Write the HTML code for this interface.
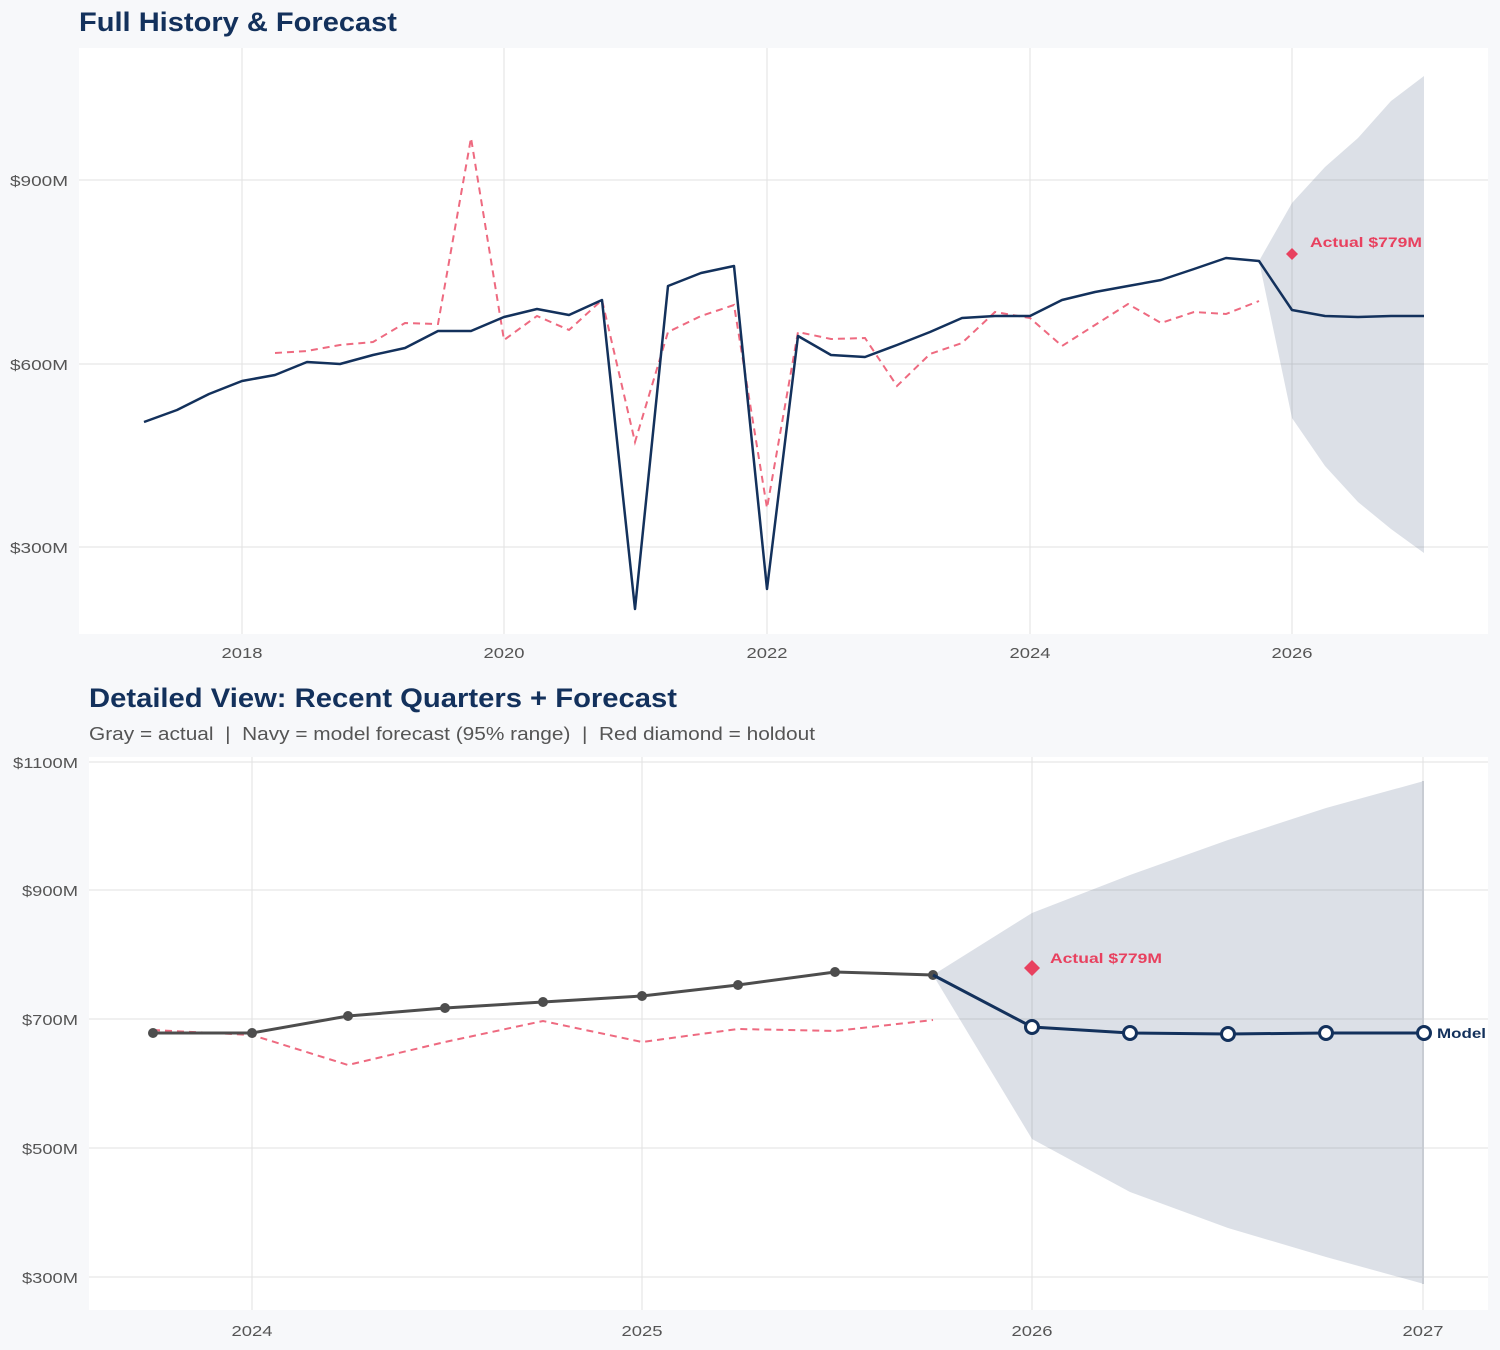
<!DOCTYPE html>
<html><head><meta charset="utf-8"><style>
html,body{margin:0;padding:0;background:#f7f8fa;}
svg{display:block;font-family:"Liberation Sans",sans-serif;}
.g{stroke:#e2e2e2;stroke-width:1;}
.yl{font-size:15px;fill:#555;text-anchor:end;}
.xl{font-size:15px;fill:#555;text-anchor:middle;}
</style></head><body>
<svg width="1500" height="1350" viewBox="0 0 1500 1350">
<rect width="1500" height="1350" fill="#f7f8fa"/>
<text x="79" y="31" font-size="27" font-weight="bold" fill="#13315c" textLength="318" lengthAdjust="spacingAndGlyphs">Full History &amp; Forecast</text>
<rect x="79" y="48" width="1409" height="586" fill="#fff"/>
<g class="g">
<line x1="79" x2="1488" y1="180" y2="180"/><line x1="79" x2="1488" y1="364" y2="364"/><line x1="79" x2="1488" y1="547" y2="547"/>
<line x1="242" x2="242" y1="48" y2="634"/><line x1="504" x2="504" y1="48" y2="634"/><line x1="767" x2="767" y1="48" y2="634"/><line x1="1030" x2="1030" y1="48" y2="634"/><line x1="1292" x2="1292" y1="48" y2="634"/>
</g>
<g class="yl"><text x="68" y="186" textLength="58" lengthAdjust="spacingAndGlyphs">$900M</text><text x="68" y="370" textLength="58" lengthAdjust="spacingAndGlyphs">$600M</text><text x="68" y="553" textLength="58" lengthAdjust="spacingAndGlyphs">$300M</text></g>
<g class="xl"><text x="242" y="658" textLength="41" lengthAdjust="spacingAndGlyphs">2018</text><text x="504" y="658" textLength="41" lengthAdjust="spacingAndGlyphs">2020</text><text x="767" y="658" textLength="41" lengthAdjust="spacingAndGlyphs">2022</text><text x="1030" y="658" textLength="41" lengthAdjust="spacingAndGlyphs">2024</text><text x="1292" y="658" textLength="41" lengthAdjust="spacingAndGlyphs">2026</text></g>
<polygon points="1259,261 1292,203 1325,167 1358,138 1391,101 1424,76 1424,553 1391,529 1358,502 1325,466 1292,418" fill="#13315c" fill-opacity="0.15"/>
<polyline fill="none" stroke="#ee6a80" stroke-width="2" stroke-dasharray="7,5" points="275,353 307,351 340,345 373,342 405,323 438,324 471,138 504,340 537,316 569,330 602,300 635,442 668,332 701,316 734,305 767,508 798,332 831,339 865,338 897,386 930,354 962,343 995,312 1030,318 1062,346 1095,325 1128,304 1161,323 1194,312 1226,314 1259,301"/>
<polyline fill="none" stroke="#13315c" stroke-width="2.5" stroke-linejoin="round" points="144,422 177,410 209,394 242,381 275,375 307,362 340,364 373,355 405,348 438,331 471,331 504,317 537,309 569,315 602,300 635,609 668,286 701,273 734,266 767,589 798,336 831,355 865,357 897,345 930,332 962,318 995,316 1030,316 1062,300 1095,292 1128,286 1161,280 1194,269 1226,258 1259,261 1292,310 1325,316 1358,317 1391,316 1424,316"/>
<polygon points="1292,248 1298,254 1292,260 1286,254" fill="#e8415f"/>
<text x="1310" y="247" font-size="14" font-weight="bold" fill="#e8415f" textLength="112" lengthAdjust="spacingAndGlyphs">Actual $779M</text>

<text x="89" y="707" font-size="27" font-weight="bold" fill="#13315c" textLength="588" lengthAdjust="spacingAndGlyphs">Detailed View: Recent Quarters + Forecast</text>
<text x="89" y="740" font-size="18" fill="#555" textLength="726" lengthAdjust="spacingAndGlyphs" style="white-space:pre">Gray = actual  |  Navy = model forecast (95% range)  |  Red diamond = holdout</text>
<rect x="89" y="757" width="1399" height="553" fill="#fff"/>
<g class="g">
<line x1="89" x2="1488" y1="762" y2="762"/><line x1="89" x2="1488" y1="890" y2="890"/><line x1="89" x2="1488" y1="1019" y2="1019"/><line x1="89" x2="1488" y1="1148" y2="1148"/><line x1="89" x2="1488" y1="1277" y2="1277"/>
<line x1="252" x2="252" y1="757" y2="1310"/><line x1="642" x2="642" y1="757" y2="1310"/><line x1="1032" x2="1032" y1="757" y2="1310"/><line x1="1423" x2="1423" y1="757" y2="1310"/>
</g>
<g class="yl"><text x="78" y="768" textLength="65" lengthAdjust="spacingAndGlyphs">$1100M</text><text x="78" y="896" textLength="56" lengthAdjust="spacingAndGlyphs">$900M</text><text x="78" y="1025" textLength="56" lengthAdjust="spacingAndGlyphs">$700M</text><text x="78" y="1154" textLength="56" lengthAdjust="spacingAndGlyphs">$500M</text><text x="78" y="1283" textLength="56" lengthAdjust="spacingAndGlyphs">$300M</text></g>
<g class="xl"><text x="252" y="1336" textLength="41" lengthAdjust="spacingAndGlyphs">2024</text><text x="642" y="1336" textLength="41" lengthAdjust="spacingAndGlyphs">2025</text><text x="1032" y="1336" textLength="41" lengthAdjust="spacingAndGlyphs">2026</text><text x="1423" y="1336" textLength="41" lengthAdjust="spacingAndGlyphs">2027</text></g>
<polygon points="933,975 1032,913 1130,875 1228,840 1326,808 1424,781 1424,1284 1326,1257 1228,1228 1130,1192 1032,1139" fill="#13315c" fill-opacity="0.15"/>
<line x1="1423" x2="1423" y1="781" y2="1284" stroke="#c8ccd3" stroke-width="2"/>
<polyline fill="none" stroke="#ee6a80" stroke-width="2" stroke-dasharray="7,5" points="153,1030 252,1035 348,1065 445,1042 543,1021 642,1042 738,1029 835,1031 933,1020"/>
<polyline fill="none" stroke="#4d4d4d" stroke-width="3" points="153,1033 252,1033 348,1016 445,1008 543,1002 642,996 738,985 835,972 933,975"/>
<g fill="#4d4d4d"><circle cx="153" cy="1033" r="5"/><circle cx="252" cy="1033" r="5"/><circle cx="348" cy="1016" r="5"/><circle cx="445" cy="1008" r="5"/><circle cx="543" cy="1002" r="5"/><circle cx="642" cy="996" r="5"/><circle cx="738" cy="985" r="5"/><circle cx="835" cy="972" r="5"/><circle cx="933" cy="975" r="5"/></g>
<polyline fill="none" stroke="#13315c" stroke-width="3" points="933,975 1032,1027 1130,1033 1228,1034 1326,1033 1424,1033"/>
<g fill="#fff" stroke="#13315c" stroke-width="3"><circle cx="1032" cy="1027" r="6.5"/><circle cx="1130" cy="1033" r="6.5"/><circle cx="1228" cy="1034" r="6.5"/><circle cx="1326" cy="1033" r="6.5"/><circle cx="1424" cy="1033" r="6.5"/></g>
<polygon points="1032,960 1040,968 1032,976 1024,968" fill="#e8415f"/>
<text x="1050" y="963" font-size="14" font-weight="bold" fill="#e8415f" textLength="112" lengthAdjust="spacingAndGlyphs">Actual $779M</text>
<text x="1437" y="1038" font-size="14" font-weight="bold" fill="#13315c" textLength="49" lengthAdjust="spacingAndGlyphs">Model</text>
</svg>
</body></html>
